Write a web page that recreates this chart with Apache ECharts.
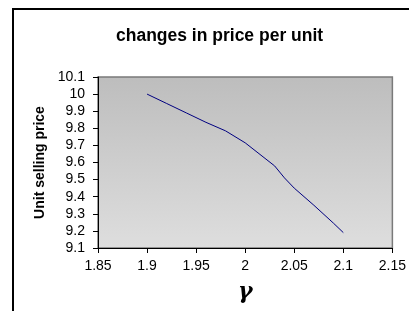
<!DOCTYPE html>
<html>
<head>
<meta charset="utf-8">
<script src="https://cdn.jsdelivr.net/npm/echarts@6/dist/echarts.min.js"></script>
<style>
html, body { margin: 0; padding: 0; background: #fff; }
#main { width: 409px; height: 311px; }
</style>
</head>
<body>
<div id="main"></div>
<script>
// gamma values and unit selling price
var gammaList = [1.9, 1.92, 1.94, 1.96, 1.98, 2.0, 2.01, 2.03, 2.04, 2.05, 2.07, 2.09, 2.1];
var priceList = [10.0, 9.945, 9.89, 9.835, 9.785, 9.715, 9.67, 9.58, 9.51, 9.45, 9.35, 9.245, 9.19];

var points = [];
for (var i = 0; i < gammaList.length; i++) {
    points.push([gammaList[i], priceList[i]]);
}

var myChart = echarts.init(document.getElementById('main'));
var font = 'Liberation Sans, Arial, sans-serif';
var option = {
    animation: false,
    title: {
        text: 'changes in price per unit',
        left: 111,
        top: 22,
        textStyle: { fontFamily: font, fontSize: 17.5, fontWeight: 'bold', color: '#000' }
    },
    graphic: [
        { type: 'line', shape: { x1: 12, y1: 9, x2: 409, y2: 9 }, style: { stroke: '#000', lineWidth: 2 } },
        { type: 'line', shape: { x1: 13, y1: 9, x2: 13, y2: 311 }, style: { stroke: '#000', lineWidth: 2 } }
    ],
    grid: {
        left: 98,
        right: 16,
        top: 77,
        bottom: 63,
        show: true,
        borderColor: '#7a7a7a',
        borderWidth: 1.5,
        backgroundColor: new echarts.graphic.LinearGradient(0, 0, 0, 1, [
            { offset: 0, color: '#bdbdbd' },
            { offset: 1, color: '#dedede' }
        ])
    },
    xAxis: {
        type: 'value',
        min: 1.85,
        max: 2.15,
        interval: 0.05,
        name: 'γ',
        nameLocation: 'middle',
        nameGap: 33,
        nameTextStyle: { fontFamily: 'DejaVu Serif, serif', fontSize: 22, fontStyle: 'italic', fontWeight: 'bold', color: '#000' },
        axisLine: { show: true, onZero: false, lineStyle: { color: '#000', width: 1 } },
        axisTick: { show: true, length: 5, lineStyle: { color: '#000' } },
        splitLine: { show: false },
        axisLabel: {
            fontFamily: font, fontSize: 14, color: '#000', margin: 11,
            formatter: function (v) { return String(Math.round(v * 100) / 100); }
        }
    },
    yAxis: {
        type: 'value',
        min: 9.1,
        max: 10.1,
        interval: 0.1,
        name: 'Unit selling price',
        nameLocation: 'middle',
        nameGap: 50,
        nameTextStyle: { fontFamily: font, fontSize: 14, fontWeight: 'bold', color: '#000' },
        axisLine: { show: true, lineStyle: { color: '#000', width: 1 } },
        axisTick: { show: true, length: 5, lineStyle: { color: '#000' } },
        splitLine: { show: false },
        axisLabel: {
            fontFamily: font, fontSize: 14, color: '#000', margin: 13,
            formatter: function (v) { return String(Math.round(v * 10) / 10); }
        }
    },
    series: [{
        type: 'line',
        data: points,
        showSymbol: false,
        lineStyle: { color: '#000080', width: 1 },
        itemStyle: { color: '#000080' }
    }]
};
myChart.setOption(option, true);
</script>
</body>
</html>
